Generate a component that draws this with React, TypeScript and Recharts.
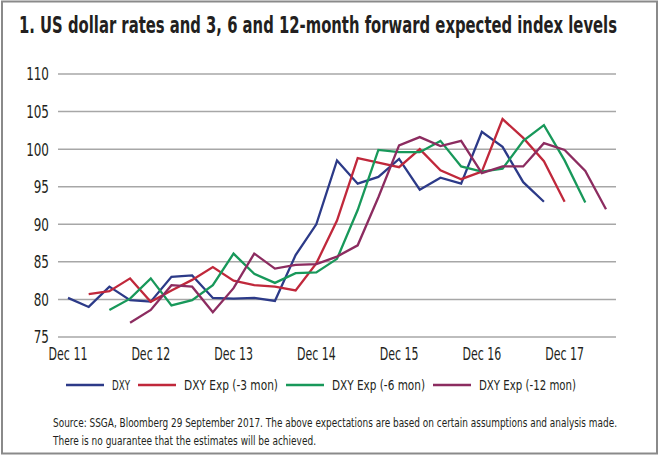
import React from 'react';
import { LineChart, Line, XAxis, YAxis, CartesianGrid, Legend } from 'recharts';

// quarter labels, Dec 11 .. Jun 18
const quarters = [
  'Dec 11', 'Mar 12', 'Jun 12', 'Sep 12', 'Dec 12', 'Mar 13', 'Jun 13', 'Sep 13',
  'Dec 13', 'Mar 14', 'Jun 14', 'Sep 14', 'Dec 14', 'Mar 15', 'Jun 15', 'Sep 15',
  'Dec 15', 'Mar 16', 'Jun 16', 'Sep 16', 'Dec 16', 'Mar 17', 'Jun 17', 'Sep 17',
  'Dec 17', 'Mar 18', 'Jun 18',
];

const yTicks = [75, 80, 85, 90, 95, 100, 105, 110];

// each series starts at a later quarter
const dxy = [80.2, 79.0, 81.7, 79.9, 79.7, 83.0, 83.2, 80.2, 80.1, 80.2, 79.8, 85.9,
  90.0, 98.5, 95.4, 96.3, 98.7, 94.6, 96.2, 95.4, 102.3, 100.3, 95.6, 93.0];
const exp3 = [80.7, 81.1, 82.8, 79.7, 81.2, 82.6, 84.3, 82.5, 81.9, 81.7, 81.2, 84.8,
  90.5, 98.8, 98.2, 97.6, 100.0, 97.2, 96.0, 97.0, 104.0, 101.5, 98.4, 93.0];
const exp6 = [78.6, 80.1, 82.8, 79.2, 79.9, 81.9, 86.1, 83.4, 82.2, 83.5, 83.6, 85.4,
  91.9, 99.9, 99.6, 99.6, 101.1, 97.7, 97.0, 97.4, 101.1, 103.2, 98.5, 92.9];
const exp12 = [76.9, 78.6, 81.9, 81.7, 78.3, 81.5, 86.1, 84.1, 84.6, 84.7, 85.7, 87.2,
  93.6, 100.5, 101.6, 100.4, 101.1, 96.8, 97.7, 97.7, 100.8, 99.9, 97.1, 92.0];

const series = [
  { key: 'dxy', name: 'DXY', values: dxy, start: 0, color: '#2c3a88', textW: 18 },
  { key: 'exp3', name: 'DXY Exp (-3 mon)', values: exp3, start: 1, color: '#c0283b', textW: 94 },
  { key: 'exp6', name: 'DXY Exp (-6 mon)', values: exp6, start: 2, color: '#18985a', textW: 93 },
  { key: 'exp12', name: 'DXY Exp (-12 mon)', values: exp12, start: 3, color: '#8c2c60', textW: 97 },
];

const data = quarters.map((q, i) => {
  const row: any = { q };
  series.forEach((s) => {
    const v = s.values[i - s.start];
    row[s.key] = v === undefined ? null : v;
  });
  return row;
});

const FONT = "'DejaVu Sans Condensed', 'Liberation Sans Narrow', sans-serif";
const INK = '#231f20';

// narrow tick text, the original uses a condensed face
const XTick = (props: any) => {
  const { x, y, payload } = props;
  return (
    <g transform={`translate(${x},${y})`}>
      <text transform="scale(0.68,1)" textAnchor="middle" dy="0.71em" fontSize={18} fill={INK} fontFamily={FONT}>
        {payload.value}
      </text>
    </g>
  );
};

const YTick = (props: any) => {
  const { x, y, payload } = props;
  return (
    <g transform={`translate(${x},${y})`}>
      <text transform="scale(0.74,1)" textAnchor="end" dy="0.355em" fontSize={18} fill={INK} fontFamily={FONT}>
        {payload.value}
      </text>
    </g>
  );
};

const LegendRow = () => {
  let x = 66;
  const items = series.map((s) => {
    const x0 = x;
    x += 38 + 8 + s.textW + 8;
    return (
      <g key={s.key}>
        <line x1={x0} x2={x0 + 38} y1={10} y2={10} stroke={s.color} strokeWidth={2.3} />
        <text x={x0 + 46} y={15} fontSize={14} fill={INK} textLength={s.textW} lengthAdjust="spacingAndGlyphs">
          {s.name}
        </text>
      </g>
    );
  });
  return (
    <svg width={660} height={20} style={{ display: 'block', fontFamily: FONT }}>
      {items}
    </svg>
  );
};

export default function App() {
  return (
    <div style={{ position: 'relative', width: 660, height: 456, background: '#fff', fontFamily: FONT }}>
      <style>{'body{margin:0}'}</style>
      <LineChart width={660} height={456} data={data} margin={{ top: 74, right: 44, left: 8, bottom: 69 }}>
        <CartesianGrid vertical={false} stroke="#a7a7a7" strokeWidth={1.5} />
        <XAxis
          dataKey="q"
          interval={3}
          axisLine={false}
          tickLine={false}
          tickMargin={4}
          height={30}
          padding={{ left: 10, right: 10 }}
          tick={<XTick />}
        />
        <YAxis
          domain={[75, 110]}
          ticks={yTicks}
          axisLine={false}
          tickLine={false}
          tickMargin={3}
          width={50}
          tick={<YTick />}
        />
        <Legend
          verticalAlign="bottom"
          content={() => <LegendRow />}
          wrapperStyle={{ left: 0, top: 375, bottom: 'auto', height: 20, width: 660 }}
        />
        {series.map((s) => (
          <Line
            key={s.key}
            dataKey={s.key}
            name={s.name}
            stroke={s.color}
            strokeWidth={2.3}
            dot={false}
            type="linear"
            connectNulls={false}
            isAnimationActive={false}
          />
        ))}
      </LineChart>
      <svg width={660} height={456} style={{ position: 'absolute', left: 0, top: 0, pointerEvents: 'none', fontFamily: FONT }}>
        <rect x={2} y={1.5} width={655} height={452} fill="none" stroke="#8a8a8a" strokeWidth={2} />
        <g transform="translate(19,33) scale(1,1.3)">
          <text x={0} y={0} fontSize={17} fontWeight="bold" fill={INK} textLength={598} lengthAdjust="spacingAndGlyphs">
            1. US dollar rates and 3, 6 and 12-month forward expected index levels
          </text>
        </g>
        <g transform="translate(53,427) scale(1,1.25)">
          <text x={0} y={0} fontSize={10.5} fill={INK} textLength={564} lengthAdjust="spacingAndGlyphs">
            Source: SSGA, Bloomberg 29 September 2017. The above expectations are based on certain assumptions and analysis made.
          </text>
        </g>
        <g transform="translate(53,445) scale(1,1.25)">
          <text x={0} y={0} fontSize={10.5} fill={INK} textLength={263} lengthAdjust="spacingAndGlyphs">
            There is no guarantee that the estimates will be achieved.
          </text>
        </g>
      </svg>
    </div>
  );
}
